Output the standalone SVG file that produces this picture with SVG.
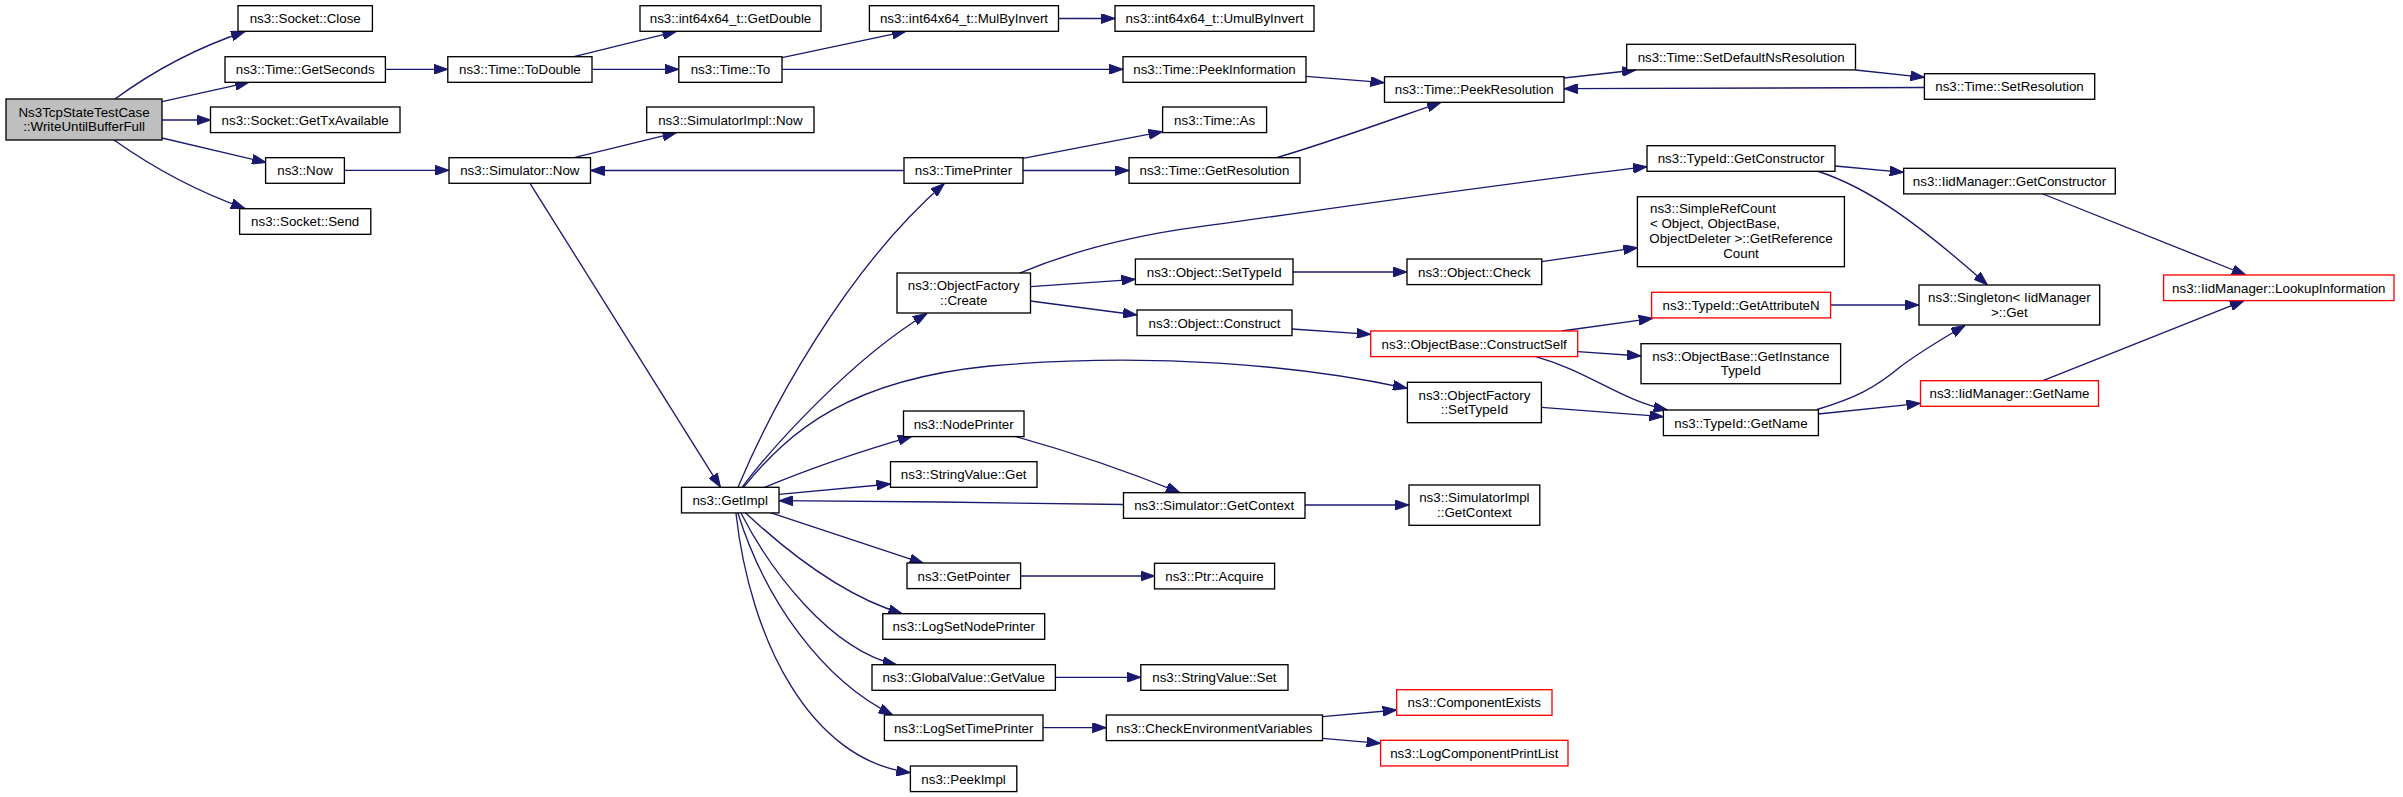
<svg xmlns="http://www.w3.org/2000/svg" width="2403" height="797" viewBox="0 0 2403 797">
<style>
.n rect{fill:#fff;stroke:#000;stroke-width:1.33}
.r rect{fill:#fff;stroke:#f00;stroke-width:1.33}
.g rect{fill:#bfbfbf;stroke:#000;stroke-width:1.33}
text{font-family:"Liberation Sans",Arial,sans-serif;font-size:13.33px;fill:#000;text-anchor:middle}
text.l{text-anchor:start}
#edges path{fill:none;stroke:#191970;stroke-width:1.33;marker-end:url(#ah)}
</style>
<defs>
<marker id="ah" markerUnits="userSpaceOnUse" markerWidth="14" markerHeight="10" refX="14" refY="5" orient="auto" viewBox="0 0 14 10">
<path d="M0,0 L14,5 L0,10 z" fill="#191970" stroke="#191970" stroke-width="1"/>
</marker>
</defs>
<rect width="2403" height="797" fill="#fff"/>
<g id="edges">
<path d="M115,99 C145,77 190,50 245,31.5"/>
<path d="M162,101.7 L249,82.3"/>
<path d="M162,120 L210.5,120"/>
<path d="M162,138 L266,162.5"/>
<path d="M114,140 C145,162 190,189 245,208.5"/>
<path d="M385.4,69.3 L447.8,69.3"/>
<path d="M574,56.7 L676.5,31.3"/>
<path d="M592,69.3 L678.8,69.3"/>
<path d="M782,57.7 L906,31.3"/>
<path d="M1058.5,18.5 L1115,18.5"/>
<path d="M782,69.3 L1123,69.3"/>
<path d="M1306,76.3 L1384.5,82.7"/>
<path d="M1564,78 L1636,70"/>
<path d="M1855.5,70 L1924.4,77.3"/>
<path d="M1924.4,87.5 L1564,88.7"/>
<path d="M574,157.7 L676.5,132.7"/>
<path d="M904,170.5 L590.5,170.5"/>
<path d="M344.4,170.3 L449,170.3"/>
<path d="M530,183.3 L720.5,487.3"/>
<path d="M1023,158.3 L1162.6,131.7"/>
<path d="M1023,170.5 L1129,170.5"/>
<path d="M1276.5,157.7 C1330,142 1390,120 1441,102.3"/>
<path d="M738,487.3 C770,410 845,270 944.4,183.5"/>
<path d="M742,487.3 C770,450 850,360 927,313.5"/>
<path d="M1019,273.3 C1070,252 1130,236 1200,226.7 C1350,206 1500,184 1647,166.7"/>
<path d="M1030.5,286.7 L1135.4,279.3"/>
<path d="M1030.5,301 L1137,315"/>
<path d="M1293,272 L1407,272"/>
<path d="M1541.7,261.7 L1637.4,247.7"/>
<path d="M1292,329 L1370.7,334.3"/>
<path d="M1561.6,331 L1652.7,318.3"/>
<path d="M1577.7,351.7 L1641,356"/>
<path d="M1535,356.3 C1590,372 1620,400 1667.5,410"/>
<path d="M743.5,487.3 C790,430 850,380 990,366 C1150,352 1300,365 1407,388.3"/>
<path d="M1541.4,407.3 L1663.4,416.7"/>
<path d="M1835.2,166 L1903.7,172.3"/>
<path d="M1817,171 C1870,188 1920,225 1987.5,285"/>
<path d="M1830.6,305 L1919,305"/>
<path d="M1817,409.5 C1855,398 1875,388 1900,367 C1920,352 1940,340 1965,325.5"/>
<path d="M1818.4,414 L1920.5,403.3"/>
<path d="M2043,194 L2245.8,275"/>
<path d="M2043,380.7 L2244,300.7"/>
<path d="M764.6,487.3 Q830,460 912,436.3"/>
<path d="M1015,436.3 Q1100,460 1180,492.7"/>
<path d="M1123.5,504.5 C1000,503 900,501 779,500.7"/>
<path d="M1305,505 L1409,505"/>
<path d="M779,494.3 L890.5,484"/>
<path d="M770.3,512.7 L923.4,563.3"/>
<path d="M1020.6,576 L1154.5,576"/>
<path d="M745.4,512.7 C780,545 840,595 902.3,613.7"/>
<path d="M740.8,512.7 C770,570 830,650 896.6,664.7"/>
<path d="M1055.4,677.3 L1140.8,677.3"/>
<path d="M737.8,512.7 C765,600 822,680 892.8,715"/>
<path d="M1043,727.7 L1106.3,727.7"/>
<path d="M1322.5,716.7 L1396.7,710"/>
<path d="M1322.5,738.3 L1380.6,743.3"/>
<path d="M735.9,512.7 C750,640 810,760 910.4,772.7"/>
</g>
<g id="n0" class="g"><rect x="6" y="99" width="156" height="41"/><text x="84" y="116.5">Ns3TcpStateTestCase</text><text x="84" y="131">::WriteUntilBufferFull</text></g>
<g id="n1" class="n"><rect x="238" y="5.7" width="134.4" height="25.6"/><text x="305.2" y="23.2">ns3::Socket::Close</text></g>
<g id="n2" class="n"><rect x="225" y="56.7" width="160.4" height="25.6"/><text x="305.2" y="74.2">ns3::Time::GetSeconds</text></g>
<g id="n3" class="n"><rect x="210.5" y="107" width="189.5" height="25.6"/><text x="305.2" y="124.5">ns3::Socket::GetTxAvailable</text></g>
<g id="n4" class="n"><rect x="265.6" y="157.7" width="78.8" height="25.6"/><text x="305" y="175.2">ns3::Now</text></g>
<g id="n5" class="n"><rect x="239.6" y="208.7" width="131.2" height="25.6"/><text x="305.2" y="226.2">ns3::Socket::Send</text></g>
<g id="n6" class="n"><rect x="447.8" y="56.7" width="144.2" height="25.6"/><text x="519.9" y="74.2">ns3::Time::ToDouble</text></g>
<g id="n7" class="n"><rect x="449" y="157.7" width="141.5" height="25.6"/><text x="519.8" y="175.2">ns3::Simulator::Now</text></g>
<g id="n8" class="n"><rect x="640" y="5.7" width="181" height="25.6"/><text x="730.5" y="23.2">ns3::int64x64_t::GetDouble</text></g>
<g id="n9" class="n"><rect x="869.4" y="5.7" width="189.1" height="25.6"/><text x="964" y="23.2">ns3::int64x64_t::MulByInvert</text></g>
<g id="n10" class="n"><rect x="1115" y="5.7" width="199" height="25.6"/><text x="1214.5" y="23.2">ns3::int64x64_t::UmulByInvert</text></g>
<g id="n11" class="n"><rect x="678.8" y="56.7" width="103.2" height="25.6"/><text x="730.4" y="74.2">ns3::Time::To</text></g>
<g id="n12" class="n"><rect x="1123" y="56.7" width="183" height="25.6"/><text x="1214.5" y="74.2">ns3::Time::PeekInformation</text></g>
<g id="n13" class="n"><rect x="646.7" y="107" width="167.3" height="25.6"/><text x="730.4" y="124.5">ns3::SimulatorImpl::Now</text></g>
<g id="n14" class="n"><rect x="1162.6" y="107" width="104" height="25.6"/><text x="1214.6" y="124.5">ns3::Time::As</text></g>
<g id="n15" class="n"><rect x="904" y="157.7" width="119" height="25.6"/><text x="963.5" y="175.2">ns3::TimePrinter</text></g>
<g id="n16" class="n"><rect x="1129" y="157.7" width="171" height="25.6"/><text x="1214.5" y="175.2">ns3::Time::GetResolution</text></g>
<g id="n17" class="n"><rect x="897" y="273" width="133.5" height="40"/><text x="963.7" y="290">ns3::ObjectFactory</text><text x="963.7" y="304.5">::Create</text></g>
<g id="n18" class="n"><rect x="1135.4" y="259" width="157.6" height="25.6"/><text x="1214.2" y="276.5">ns3::Object::SetTypeId</text></g>
<g id="n19" class="n"><rect x="1137" y="310" width="155" height="25.6"/><text x="1214.5" y="327.5">ns3::Object::Construct</text></g>
<g id="n20" class="n"><rect x="1384.5" y="76.7" width="179.5" height="25.6"/><text x="1474.2" y="94.2">ns3::Time::PeekResolution</text></g>
<g id="n21" class="n"><rect x="1626.7" y="44.3" width="228.8" height="25.6"/><text x="1741.1" y="61.8">ns3::Time::SetDefaultNsResolution</text></g>
<g id="n22" class="n"><rect x="1647" y="145.7" width="188" height="25.6"/><text x="1741" y="163.2">ns3::TypeId::GetConstructor</text></g>
<g id="n23" class="n"><rect x="1637.4" y="196.7" width="207" height="70"/><text class="l" x="1650" y="213">ns3::SimpleRefCount</text><text class="l" x="1650" y="228">&lt; Object, ObjectBase,</text><text x="1741" y="243"> ObjectDeleter &gt;::GetReference</text><text x="1741" y="257.5">Count</text></g>
<g id="n24" class="n"><rect x="1407" y="259" width="134.7" height="25.6"/><text x="1474.3" y="276.5">ns3::Object::Check</text></g>
<g id="n25" class="r"><rect x="1651.6" y="292.3" width="179" height="25.6"/><text x="1741.1" y="309.8">ns3::TypeId::GetAttributeN</text></g>
<g id="n26" class="r"><rect x="1370.7" y="331" width="207" height="25.6"/><text x="1474.2" y="348.5">ns3::ObjectBase::ConstructSelf</text></g>
<g id="n27" class="n"><rect x="1641" y="343.7" width="199.6" height="40"/><text x="1740.8" y="360.7">ns3::ObjectBase::GetInstance</text><text x="1740.8" y="375.2">TypeId</text></g>
<g id="n28" class="n"><rect x="1407.4" y="382.3" width="134" height="40.4"/><text x="1474.4" y="399.5">ns3::ObjectFactory</text><text x="1474.4" y="414">::SetTypeId</text></g>
<g id="n29" class="n"><rect x="1924.4" y="73.7" width="170.3" height="25.6"/><text x="2009.5" y="91.2">ns3::Time::SetResolution</text></g>
<g id="n30" class="n"><rect x="1903.7" y="168.3" width="211.6" height="25.6"/><text x="2009.5" y="185.8">ns3::IidManager::GetConstructor</text></g>
<g id="n31" class="n"><rect x="1919" y="285" width="180.7" height="40"/><text x="2009.4" y="302">ns3::Singleton&lt; IidManager</text><text x="2009.4" y="316.5"> &gt;::Get</text></g>
<g id="n32" class="r"><rect x="2163.6" y="275" width="230.4" height="25.6"/><text x="2278.8" y="292.5">ns3::IidManager::LookupInformation</text></g>
<g id="n33" class="r"><rect x="1920.5" y="380.7" width="178" height="25.6"/><text x="2009.5" y="398.2">ns3::IidManager::GetName</text></g>
<g id="n34" class="n"><rect x="1663.4" y="410" width="155" height="25.6"/><text x="1740.9" y="427.5">ns3::TypeId::GetName</text></g>
<g id="n35" class="n"><rect x="1409" y="485" width="130.8" height="40.3"/><text x="1474.4" y="502">ns3::SimulatorImpl</text><text x="1474.4" y="516.5">::GetContext</text></g>
<g id="n36" class="n"><rect x="1154.5" y="563.3" width="120.1" height="25.6"/><text x="1214.5" y="580.8">ns3::Ptr::Acquire</text></g>
<g id="n37" class="n"><rect x="1140.8" y="664.7" width="147.2" height="25.6"/><text x="1214.4" y="682.2">ns3::StringValue::Set</text></g>
<g id="n38" class="n"><rect x="1106.3" y="715" width="216.2" height="25.6"/><text x="1214.4" y="732.5">ns3::CheckEnvironmentVariables</text></g>
<g id="n39" class="r"><rect x="1396.7" y="689.7" width="155.3" height="25.6"/><text x="1474.3" y="707.2">ns3::ComponentExists</text></g>
<g id="n40" class="r"><rect x="1380.6" y="740.3" width="187.4" height="25.6"/><text x="1474.3" y="757.8">ns3::LogComponentPrintList</text></g>
<g id="n41" class="n"><rect x="1123.5" y="492.7" width="181.5" height="25.6"/><text x="1214.2" y="510.2">ns3::Simulator::GetContext</text></g>
<g id="n42" class="n"><rect x="903.5" y="411" width="120.5" height="25.6"/><text x="963.7" y="428.5">ns3::NodePrinter</text></g>
<g id="n43" class="n"><rect x="890.5" y="461.7" width="146.5" height="25.6"/><text x="963.7" y="479.2">ns3::StringValue::Get</text></g>
<g id="n44" class="n"><rect x="681.5" y="487.3" width="97.5" height="25.6"/><text x="730.2" y="504.8">ns3::GetImpl</text></g>
<g id="n45" class="n"><rect x="907" y="563" width="113.6" height="25.6"/><text x="963.8" y="580.5">ns3::GetPointer</text></g>
<g id="n46" class="n"><rect x="882.8" y="613.7" width="161.9" height="25.6"/><text x="963.7" y="631.2">ns3::LogSetNodePrinter</text></g>
<g id="n47" class="n"><rect x="872" y="664.7" width="183.4" height="25.6"/><text x="963.7" y="682.2">ns3::GlobalValue::GetValue</text></g>
<g id="n48" class="n"><rect x="884.4" y="715" width="158.6" height="25.6"/><text x="963.7" y="732.5">ns3::LogSetTimePrinter</text></g>
<g id="n49" class="n"><rect x="910.4" y="766" width="106.4" height="25.6"/><text x="963.6" y="783.5">ns3::PeekImpl</text></g>
</svg>
